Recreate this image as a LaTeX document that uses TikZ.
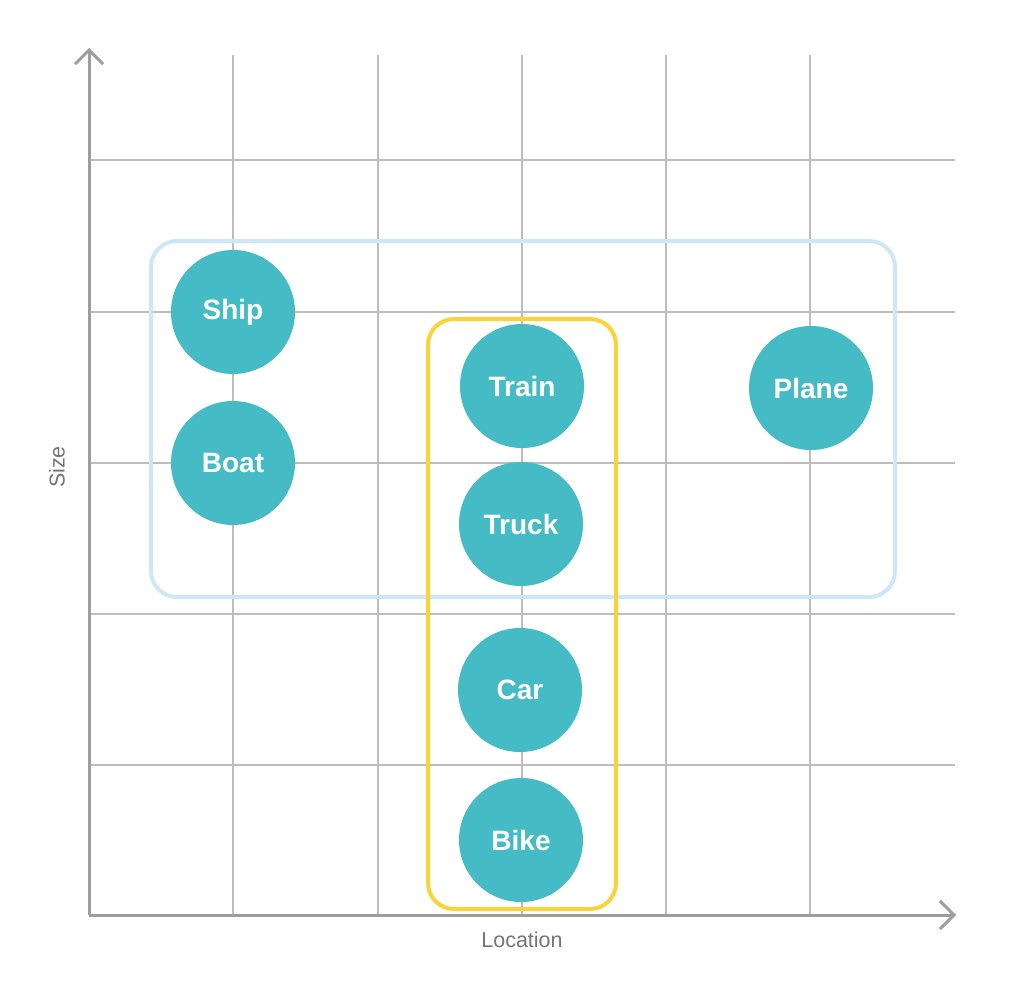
\documentclass[tikz,border=0pt]{standalone}
\usepackage{fontspec}
\setmainfont{Liberation Sans}
\usetikzlibrary{arrows.meta}
\definecolor{teal}{HTML}{45BBC6}
\definecolor{gridgray}{HTML}{BDBDBD}
\definecolor{axisgray}{HTML}{9E9E9E}
\definecolor{boxblue}{HTML}{CDE7F7}
\definecolor{boxyellow}{HTML}{FBD338}
\definecolor{labelgray}{HTML}{757575}
\tikzset{
  item/.style={circle, fill=teal, minimum size=124pt, inner sep=0pt, text=white, font=\fontsize{28}{32}\selectfont\bfseries},
  gridline/.style={draw=gridgray, line width=2pt},
  axisline/.style={draw=axisgray, line width=3pt, -{Straight Barb[length=14pt,width=28pt,line width=3pt]}},
  axlabel/.style={text=labelgray, font=\fontsize{21.5}{25}\selectfont, inner sep=0pt},
}
\begin{document}
\begin{tikzpicture}[x=1pt,y=-1pt]
\useasboundingbox (0,0) rectangle (1024,1001);
\fill[white] (0,0) rectangle (1024,1001);
% grid
\foreach \x in {233,378,522,666,810} \draw[gridline] (\x,55) -- (\x,915);
\foreach \y in {160,312,463,614,765} \draw[gridline] (89,\y) -- (955,\y);
% axes
\coordinate (O) at (89,915);
\coordinate (ytop) at (89,48);
\coordinate (xend) at (956,915);
\draw[axisline] (O) -- (ytop);
\draw[axisline] (O) -- (xend);
\node[axlabel, rotate=90] (size) at (57,467) {Size};
\node[axlabel] (loc) at (522,940) {Location};
% groups
\draw[boxblue, line width=4pt, rounded corners=26pt] (151,241) rectangle (895,597);
\draw[boxyellow, line width=4pt, rounded corners=26pt] (428,319) rectangle (616,909);
% items
\node[item] (ship) at (233,312) {Ship};
\node[item] (boat) at (233,463) {Boat};
\node[item] (train) at (522,386) {Train};
\node[item] (plane) at (811,388) {Plane};
\node[item] (truck) at (521,524) {Truck};
\node[item] (car) at (520,690) {Car};
\node[item] (bike) at (521,840) {Bike};
\end{tikzpicture}
\end{document}
